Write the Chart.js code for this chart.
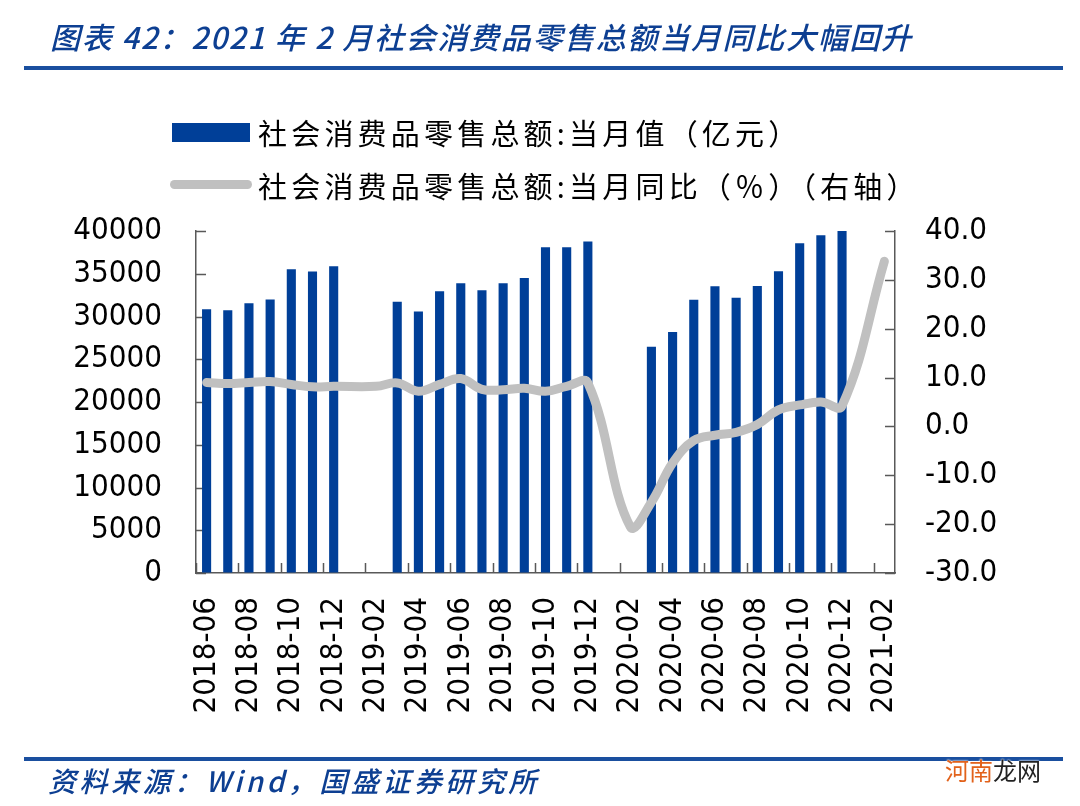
<!DOCTYPE html>
<html>
<head>
<meta charset="utf-8">
<script src="https://cdn.jsdelivr.net/npm/chart.js@4.4.1/dist/chart.umd.min.js"></script>
<style>
  html, body { margin: 0; padding: 0; background: #fff; }
  #wrap { position: relative; width: 1080px; height: 806px; overflow: hidden; }
  #wrap canvas { position: absolute; left: 0; top: 0; }
  .abs { position: absolute; white-space: nowrap; }
  .title { left: 50px; top: 14px; height: 44px; line-height: 44px; font: italic 500 30px 'Noto Sans CJK SC', sans-serif; color: #0d3f92; letter-spacing: 1.7px; }
  .rule { left: 24px; width: 1039px; height: 4px; background: #1a4f9f; }
  .leg { font: 29px 'Noto Sans CJK SC', sans-serif; color: #000; letter-spacing: 4.2px; height: 40px; line-height: 40px; left: 258px; }
  .src { left: 48px; top: 760px; height: 40px; line-height: 40px; font: italic 500 28px 'Noto Sans CJK SC', sans-serif; color: #0d3f92; letter-spacing: 3.5px; }
  .wm { left: 945px; top: 752px; height: 36px; line-height: 36px; font: 24px 'Noto Sans CJK SC', sans-serif; color: #222; text-shadow: 0 0 2px #fff, 0 0 2px #fff; }
</style>
</head>
<body>
<div id="wrap">
  <canvas id="myChart" width="1080" height="806"></canvas>
  <div class="abs title">图表 42：2021 年 2 月社会消费品零售总额当月同比大幅回升</div>
  <div class="abs rule" style="top:66px"></div>
  <div class="abs" style="left:172px; top:123px; width:78px; height:19px; background:#003f98"></div>
  <div class="abs leg" style="top:112px">社会消费品零售总额:当月值（亿元）</div>
  <div class="abs" style="left:170px; top:180px; width:82px; height:9px; border-radius:5px; background:#c0c0c0"></div>
  <div class="abs leg" style="top:165px">社会消费品零售总额:当月同比（％）（右轴）</div>
  <div class="abs rule" style="top:757px"></div>
  <div class="abs src">资料来源：Wind，国盛证券研究所</div>
  <div class="abs wm"><span style="color:#e2621b">河南</span>龙网</div>
</div>
<script>
// months on the x axis, a label is shown on every second one
const months = [
  '2018-06', '2018-07', '2018-08', '2018-09', '2018-10', '2018-11', '2018-12',
  '2019-01', '2019-02', '2019-03', '2019-04', '2019-05', '2019-06', '2019-07',
  '2019-08', '2019-09', '2019-10', '2019-11', '2019-12',
  '2020-01', '2020-02', '2020-03', '2020-04', '2020-05', '2020-06', '2020-07',
  '2020-08', '2020-09', '2020-10', '2020-11', '2020-12',
  '2021-01', '2021-02'
];
// 当月值（亿元）
const retailValue = [
  30840, 30730, 31540, 32000, 35530, 35260, 35890,
  null, null, 31720, 30590, 32960, 33880, 33070,
  33900, 34490, 38100, 38090, 38780,
  null, null, 26450, 28180, 31970, 33530, 32200,
  33570, 35300, 38580, 39510, 40000,
  null, null
];
// 当月同比（%）
const retailYoY = [
  9.0, 8.8, 9.0, 9.2, 8.6, 8.1, 8.2,
  null, 8.2, 8.9, 7.2, 8.6, 9.8, 7.6,
  7.5, 7.8, 7.2, 8.2, 8.9,
  null, -20.5, -15.5, -7.5, -2.9, -1.8, -1.2,
  0.4, 3.4, 4.4, 5.0, 4.2,
  null, 33.8
];

const axisColor = '#595959';
const tickFont = { family: "'DejaVu Sans Condensed', 'DejaVu Sans'", size: 31 };

// short tick marks pointing into the plot, like the original
const innerTicks = {
  id: 'innerTicks',
  beforeDatasetsDraw(chart) {
    const ctx = chart.ctx;
    const a = chart.chartArea;
    const sx = chart.scales.x, yl = chart.scales.y, yr = chart.scales.y1;
    const half = (sx.getPixelForValue(1) - sx.getPixelForValue(0)) / 2;
    ctx.save();
    ctx.strokeStyle = axisColor;
    ctx.lineWidth = 1.5;
    ctx.beginPath();
    yl.ticks.forEach((t, i) => {
      const py = Math.round(yl.getPixelForTick(i)) + 0.5;
      ctx.moveTo(a.left, py); ctx.lineTo(a.left + 10, py);
    });
    yr.ticks.forEach((t, i) => {
      const py = Math.round(yr.getPixelForTick(i)) + 0.5;
      ctx.moveTo(a.right, py); ctx.lineTo(a.right - 10, py);
    });
    for (let i = 0; i < months.length; i += 2) {
      const px = Math.round(sx.getPixelForValue(i) - half) + 0.5;
      ctx.moveTo(px, a.bottom); ctx.lineTo(px, a.bottom - 10);
    }
    ctx.stroke();
    ctx.restore();
  }
};

const ctx = document.getElementById('myChart');
new Chart(ctx, {
  data: {
    labels: months,
    datasets: [{
      type: 'line',
      label: '社会消费品零售总额:当月同比（%）（右轴）',
      data: retailYoY,
      yAxisID: 'y1',
      borderColor: '#c0c0c0',
      borderWidth: 9,
      borderCapStyle: 'round',
      borderJoinStyle: 'round',
      pointRadius: 0,
      tension: 0.4,
      spanGaps: true,
      order: 0
    }, {
      type: 'bar',
      label: '社会消费品零售总额:当月值（亿元）',
      data: retailValue,
      yAxisID: 'y',
      backgroundColor: '#003f98',
      categoryPercentage: 1,
      barPercentage: 0.43,
      order: 1
    }]
  },
  options: {
    responsive: false,
    animation: false,
    layout: { padding: { top: 231, left: 0, right: 0, bottom: 0 } },
    plugins: { legend: { display: false }, tooltip: { enabled: false } },
    scales: {
      x: {
        offset: true,
        grid: { display: true, drawOnChartArea: false, drawTicks: false },
        border: { display: true, color: axisColor, width: 1.5 },
        ticks: {
          autoSkip: false,
          minRotation: 90,
          maxRotation: 90,
          padding: 24,
          color: '#000',
          font: tickFont,
          callback: (v, i) => (i % 2 === 0 ? months[i] : '')
        },
        afterFit: (s) => { s.height = 806 - 573; }
      },
      y: {
        position: 'left',
        min: 0,
        max: 40000,
        grid: { display: true, drawOnChartArea: false, drawTicks: false },
        border: { display: true, color: axisColor, width: 1.5 },
        ticks: {
          stepSize: 5000,
          padding: 34,
          color: '#000',
          font: tickFont,
          callback: (v) => String(v)
        },
        afterFit: (s) => { s.width = 196; }
      },
      y1: {
        position: 'right',
        min: -30,
        max: 40,
        grid: { display: true, drawOnChartArea: false, drawTicks: false },
        border: { display: true, color: axisColor, width: 1.5 },
        ticks: {
          stepSize: 10,
          padding: 30,
          color: '#000',
          font: tickFont,
          callback: (v) => v.toFixed(1)
        },
        afterFit: (s) => { s.width = 1080 - 895; }
      }
    }
  },
  plugins: [innerTicks]
});
</script>
</body>
</html>
